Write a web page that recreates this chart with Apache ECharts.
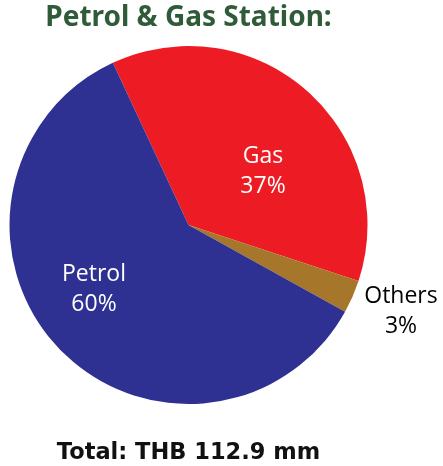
<!DOCTYPE html>
<html><head><meta charset="utf-8">
<script src="https://cdn.jsdelivr.net/npm/echarts@6/dist/echarts.min.js"></script>
<style>html,body{margin:0;padding:0;background:#fff}#c{width:443px;height:466px}</style>
</head><body><div id="c"></div>
<script>
const categories = ['Gas', 'Others', 'Petrol'];
const shares = [37, 3, 60];
const colors = ['#ED1C24', '#A6772A', '#2E3192'];
const titleText = 'Petrol & Gas Station:';
const footerText = 'Total: THB 112.9 mm';

const labelPos = [[263, 171], [401, 311], [94, 289]];
const labelColors = ['#ffffff', '#000000', '#ffffff'];

const chart = echarts.init(document.getElementById('c'), null, {renderer: 'canvas'});
chart.setOption({
  animation: false,
  title: [{
    text: titleText, left: 183.5, top: -1, textAlign: 'center',
    textStyle: {fontFamily: 'Noto Sans', fontWeight: 'bold', fontSize: 28, color: '#2F5B38'}
  }, {
    text: footerText, left: 183.5, top: 437, textAlign: 'center',
    textStyle: {fontFamily: 'DejaVu Sans', fontWeight: 'bold', fontSize: 22.5, color: '#111'}
  }],
  series: [{
    type: 'pie',
    center: [188.5, 225],
    radius: [0, 179],
    startAngle: 115,
    clockwise: true,
    avoidLabelOverlap: false,
    itemStyle: {borderWidth: 0},
    label: {
      show: true, position: 'inside',
      fontFamily: 'Open Sans', fontSize: 23, lineHeight: 30,
      formatter: p => p.name + '\n' + p.value + '%'
    },
    labelLine: {show: false},
    labelLayout: function (params) {
      const i = params.dataIndex;
      return {x: labelPos[i][0], y: labelPos[i][1], align: 'center', verticalAlign: 'middle'};
    },
    data: categories.map((n, i) => ({
      name: n, value: shares[i],
      itemStyle: {color: colors[i]},
      label: {color: labelColors[i]}
    }))
  }]
});
</script></body></html>
